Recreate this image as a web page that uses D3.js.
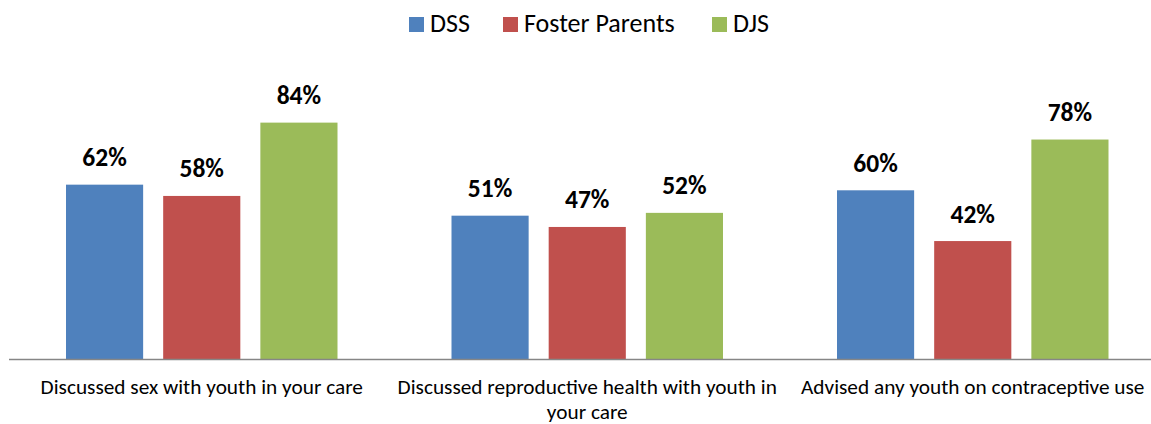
<!DOCTYPE html>
<html>
<head>
<meta charset="utf-8">
<script src="https://cdn.jsdelivr.net/npm/d3@7"></script>
<style>
  body { margin: 0; background: #fff; }
  text { font-family: Carlito, Lato, "Open Sans", sans-serif; fill: #000; }
</style>
</head>
<body>
<div id="chart"></div>
<script>
// chart data
var categories = [
    "Discussed sex with youth in your care",
    "Discussed reproductive health with youth in your care",
    "Advised any youth on contraceptive use"
];
var seriesNames = ["DSS", "Foster Parents", "DJS"];
var dssValues = [62, 51, 60];
var fosterValues = [58, 47, 42];
var djsValues = [84, 52, 78];
var colors = ["#4F81BD", "#C0504D", "#9BBB59"];

var seriesValues = [dssValues, fosterValues, djsValues];

var width = 1151, height = 424;
var baseY = 359.5;

var svg = d3.select("#chart")
    .append("svg")
    .attr("width", width)
    .attr("height", height);

// scales
var x0 = d3.scaleBand()
    .domain(categories)
    .range([9, 1165.5])
    .paddingInner(0)
    .paddingOuter(0);

var x1 = d3.scaleBand()
    .domain(seriesNames)
    .range([57, 385.5 - 57])
    .paddingInner(20 / 97);

var y = d3.scaleLinear()
    .domain([0, 100])
    .range([baseY, 77.5]);

// bars
var groups = svg.selectAll("g.cat")
    .data(categories)
    .enter().append("g")
    .attr("class", "cat")
    .attr("transform", function (d) { return "translate(" + x0(d) + ",0)"; });

groups.selectAll("rect")
    .data(function (d, i) {
        return seriesNames.map(function (s, j) {
            return { series: s, value: seriesValues[j][i], color: colors[j] };
        });
    })
    .enter().append("rect")
    .attr("x", function (d) { return x1(d.series); })
    .attr("y", function (d) { return y(d.value); })
    .attr("width", x1.bandwidth())
    .attr("height", function (d) { return baseY - y(d.value); })
    .attr("fill", function (d) { return d.color; });

// value labels
groups.selectAll("text.val")
    .data(function (d, i) {
        return seriesNames.map(function (s, j) {
            return { series: s, value: seriesValues[j][i] };
        });
    })
    .enter().append("text")
    .attr("class", "val")
    .attr("x", function (d) { return x1(d.series) + x1.bandwidth() / 2; })
    .attr("y", function (d) { return y(d.value) - 18.5; })
    .attr("text-anchor", "middle")
    .style("font-size", "25.5px")
    .style("font-weight", "bold")
    .text(function (d) { return d.value + "%"; });

// axis line
svg.append("line")
    .attr("x1", 9)
    .attr("x2", width)
    .attr("y1", baseY)
    .attr("y2", baseY)
    .attr("stroke", "#868686")
    .attr("stroke-width", 1.5);

// category labels, wrapped to band width
groups.append("text")
    .attr("class", "cat-label")
    .attr("x", x0.bandwidth() / 2)
    .attr("y", 394)
    .attr("text-anchor", "middle")
    .style("font-size", "21.3px")
    .each(function (d) {
        var el = d3.select(this);
        var words = d.split(" ");
        var line = [];
        var tspan = el.append("tspan").attr("x", x0.bandwidth() / 2).attr("dy", 0);
        words.forEach(function (w) {
            line.push(w);
            tspan.text(line.join(" "));
            if (tspan.node().getComputedTextLength() > 392 && line.length > 1) {
                line.pop();
                tspan.text(line.join(" "));
                line = [w];
                tspan = el.append("tspan").attr("x", x0.bandwidth() / 2).attr("dy", 25).text(w);
            }
        });
    });

// legend
var legend = svg.append("g").attr("class", "legend");
var legendX = [409, 503, 712];
seriesNames.forEach(function (s, i) {
    var g = legend.append("g").attr("transform", "translate(" + legendX[i] + ",0)");
    g.append("rect")
        .attr("x", 0)
        .attr("y", 17)
        .attr("width", 15)
        .attr("height", 15)
        .attr("fill", colors[i]);
    g.append("text")
        .attr("x", 21)
        .attr("y", 32)
        .style("font-size", "26px")
        .text(s);
});
</script>
</body>
</html>
